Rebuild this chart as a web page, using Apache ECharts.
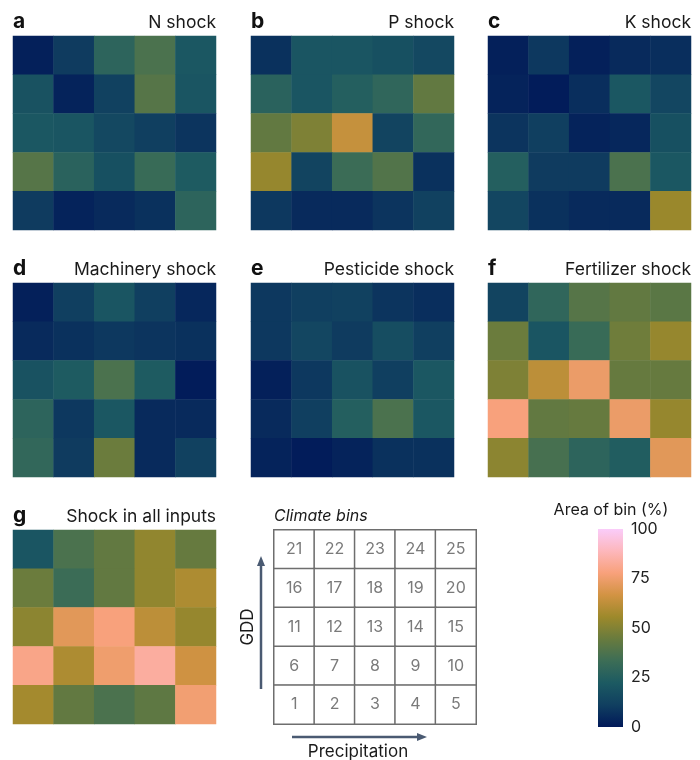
<!DOCTYPE html>
<html><head><meta charset="utf-8">
<script src="https://cdn.jsdelivr.net/npm/echarts@6/dist/echarts.min.js"></script>
<style>html,body{margin:0;padding:0;background:#fff}#c{width:700px;height:760px}</style>
</head><body><div id="c"></div>
<script>
// Rows listed top (bins 21-25) to bottom (bins 1-5); values = area of bin (%)
const panelLetters = ['a','b','c','d','e','f','g'];
const panelTitles = ['N shock','P shock','K shock','Machinery shock','Pesticide shock','Fertilizer shock','Shock in all inputs'];
const nShock = [[2,10,28,37,21],[19,3,12,40,20],[21,20,15,11,8],[40,27,18,32,23],[10,3,5,7,28]];
const pShock = [[7,20,20,18,15],[27,20,25,29,43],[43,49,64,13,30],[54,13,33,39,7],[9,5,5,8,12]];
const kShock = [[2,9,2,5,6],[3,1,6,21,14],[8,11,3,4,18],[25,10,10,37,21],[14,7,5,5,55]];
const machineryShock = [[2,11,20,11,4],[5,7,9,8,7],[19,23,37,23,1],[28,9,21,5,5],[30,10,45,5,12]];
const pesticideShock = [[9,11,12,8,6],[9,14,10,17,11],[2,9,19,11,21],[5,11,25,37,21],[3,1,3,7,7]];
const fertilizerShock = [[13,29,40,43,41],[45,20,32,46,54],[49,62,74,44,44],[78,43,44,74,54],[52,36,28,24,71]];
const allInputsShock = [[20,37,43,53,44],[45,33,43,53,59],[52,71,78,62,54],[80,59,75,84,66],[57,43,37,42,76]];
const panelValues = [nShock,pShock,kShock,machineryShock,pesticideShock,fertilizerShock,allInputsShock];
const climateBins = [[21,22,23,24,25],[16,17,18,19,20],[11,12,13,14,15],[6,7,8,9,10],[1,2,3,4,5]];
const colorbarTicks = [0,25,50,75,100];
const precipCats = ['P1','P2','P3','P4','P5'];
const gddCats = ['G5','G4','G3','G2','G1'];
const batlow = ['#011959','#103F60','#1C5A62','#3C6D56','#687B3E','#9D892B','#D29343','#F8A17B','#FDB7BC','#FACCFA'];

const chart = echarts.init(document.getElementById('c'));
const FONT = 'Inter, "Noto Sans", sans-serif';
const colLefts = [13,251,488], rowTops = [36,283,530], W = 203, H = 194;
const titleY = [22,269,516];
const grids = [], xAxes = [], yAxes = [], series = [], graphics = [];

function toData(m){const d=[];m.forEach((row,r)=>row.forEach((v,c)=>d.push([c,r,v])));return d;}

panelValues.forEach((m,i)=>{
  const col = i%3, row = Math.floor(i/3);
  grids.push({left:colLefts[col], top:rowTops[row], width:W, height:H});
  xAxes.push({type:'category', data:precipCats, gridIndex:i, show:false});
  yAxes.push({type:'category', data:gddCats, gridIndex:i, show:false, inverse:true});
  series.push({type:'heatmap', xAxisIndex:i, yAxisIndex:i, data:toData(m), itemStyle:{borderWidth:0}, emphasis:{disabled:true}});
  graphics.push({type:'text', style:{text:panelLetters[i], x:colLefts[col], y:titleY[row], textVerticalAlign:'middle', font:'bold 21px '+FONT, fill:'#111'}});
  graphics.push({type:'text', style:{text:panelTitles[i], x:colLefts[col]+W, y:titleY[row]+1, textAlign:'right', textVerticalAlign:'middle', font:'17.5px '+FONT, fill:'#1a1a1a'}});
});

// climate bins key grid
const kg = grids.length;
grids.push({left:274, top:530, width:202, height:194});
xAxes.push({type:'category', data:precipCats, gridIndex:kg, show:false});
yAxes.push({type:'category', data:gddCats, gridIndex:kg, show:false, inverse:true});
series.push({type:'heatmap', xAxisIndex:kg, yAxisIndex:kg, data:toData(climateBins),
  itemStyle:{color:'#fff', borderColor:'#6e6e6e', borderWidth:1.5},
  label:{show:true, formatter:p=>p.value[2], fontSize:16, color:'#7a7a7a', fontFamily:FONT},
  emphasis:{disabled:true}});

// colorbar
const cg = grids.length;
grids.push({left:598, top:529, width:25, height:198});
xAxes.push({type:'category', data:['bar'], gridIndex:cg, show:false});
yAxes.push({type:'value', gridIndex:cg, min:0, max:100, interval:25, position:'left',
  axisLine:{show:false}, splitLine:{show:false}, axisLabel:{show:false},
  axisTick:{show:true, inside:true, length:5, lineStyle:{color:'rgba(255,255,255,0.75)', width:1.2}}});
yAxes.push({type:'value', gridIndex:cg, min:0, max:100, interval:25, position:'right',
  axisLine:{show:false}, splitLine:{show:false},
  axisLabel:{show:true, margin:8, fontSize:16, color:'#222', fontFamily:FONT, customValues:colorbarTicks},
  axisTick:{show:true, inside:true, length:5, lineStyle:{color:'rgba(255,255,255,0.75)', width:1.2}}});
const stops = batlow.map((c,i)=>({offset:1-i/(batlow.length-1), color:c}));
series.push({type:'bar', xAxisIndex:cg, yAxisIndex:cg+1, data:[colorbarTicks[colorbarTicks.length-1]], barWidth:'100%', silent:true,
  itemStyle:{color:{type:'linear', x:0, y:0, x2:0, y2:1, colorStops:stops.slice().reverse()}}});

// texts & arrows
const arrowC = '#4a5a72';
graphics.push({type:'text', style:{text:'Climate bins', x:274, y:516, textVerticalAlign:'middle', font:'italic 16px '+FONT, fill:'#1a1a1a'}});
graphics.push({type:'text', style:{text:'Area of bin (%)', x:611, y:510, textAlign:'center', textVerticalAlign:'middle', font:'16px '+FONT, fill:'#1a1a1a'}});
graphics.push({type:'text', x:248, y:627, rotation:Math.PI/2, style:{text:'GDD', x:0, y:0, textAlign:'center', textVerticalAlign:'middle', font:'17px '+FONT, fill:'#1a1a1a'}});
graphics.push({type:'text', style:{text:'Precipitation', x:358, y:752, textAlign:'center', textVerticalAlign:'middle', font:'17px '+FONT, fill:'#1a1a1a'}});
graphics.push({type:'line', shape:{x1:261, y1:689, x2:261, y2:564}, style:{stroke:arrowC, lineWidth:2.5}});
graphics.push({type:'polygon', shape:{points:[[261,556],[257,566],[265,566]]}, style:{fill:arrowC}});
graphics.push({type:'line', shape:{x1:292, y1:737, x2:419, y2:737}, style:{stroke:arrowC, lineWidth:2.5}});
graphics.push({type:'polygon', shape:{points:[[427,737],[417,733],[417,741]]}, style:{fill:arrowC}});

chart.setOption({
  animation:false,
  backgroundColor:'#fff',
  grid:grids, xAxis:xAxes, yAxis:yAxes,
  visualMap:{type:'continuous', min:0, max:100, show:false, seriesIndex:[0,1,2,3,4,5,6], inRange:{color:batlow}},
  series:series,
  graphic:graphics
});
</script></body></html>
